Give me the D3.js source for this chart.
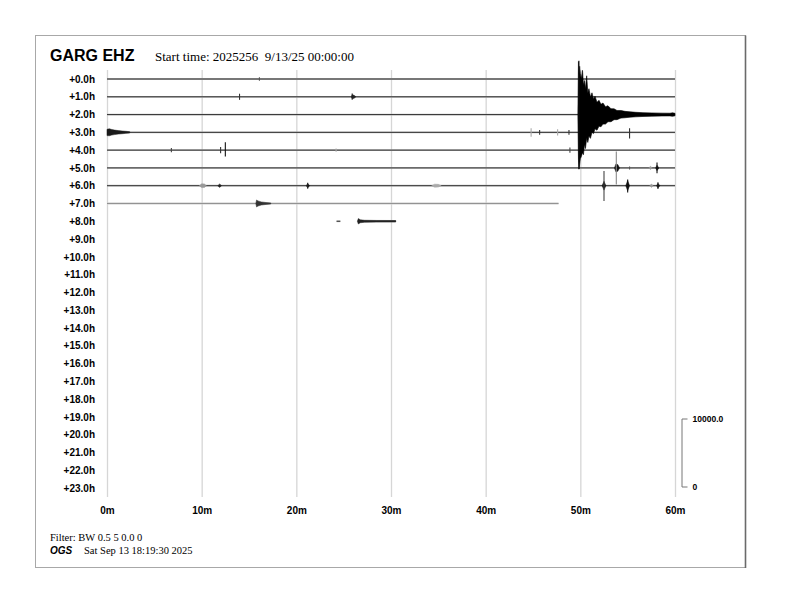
<!DOCTYPE html>
<html>
<head>
<meta charset="utf-8">
<script src="https://cdn.jsdelivr.net/npm/d3@7"></script>
<style>
  html, body { margin: 0; padding: 0; background: #fff; }
  svg { display: block; }
</style>
</head>
<body>
<svg id="chart" width="792" height="612"></svg>
<script>
// ---------------- DATA ----------------
const station = "GARG EHZ";
const startTimeText = "Start time: 2025256  9/13/25 00:00:00";
const filterText = "Filter: BW 0.5 5 0.0 0";
const agencyText = "OGS";
const stampText = "Sat Sep 13 18:19:30 2025";

const rowLabels = ["+0.0h","+1.0h","+2.0h","+3.0h","+4.0h","+5.0h","+6.0h","+7.0h",
  "+8.0h","+9.0h","+10.0h","+11.0h","+12.0h","+13.0h","+14.0h","+15.0h",
  "+16.0h","+17.0h","+18.0h","+19.0h","+20.0h","+21.0h","+22.0h","+23.0h"];
const xTickMinutes = [0, 10, 20, 30, 40, 50, 60];
const xTickLabels = ["0m", "10m", "20m", "30m", "40m", "50m", "60m"];
const scaleBarValues = [0, 10000];
const scaleBarLabels = ["0", "10000.0"];

// recorded trace spans: [row, startMinute, endMinute]
const traceSpans = [
  [0, 0, 60], [1, 0, 60], [2, 0, 60], [3, 0, 60], [4, 0, 60],
  [5, 0, 60], [6, 0, 60], [7, 0, 47.7], [8, 24.25, 24.65], [8, 26.5, 30.5]
];
// faded rows (lighter trace)
const fadedRows = [7];

// main earthquake, row +2.0h: [minute, up counts, down counts]
const mainQuake = [
  [49.74, 0, 0], [49.80, 7800, 6600], [49.86, 5900, 8000], [49.93, 7100, 7300],
  [50.00, 6000, 6500], [50.10, 5300, 6200], [50.23, 6500, 5600], [50.33, 4400, 5900],
  [50.44, 5000, 4400], [50.54, 3800, 5000], [50.67, 5700, 3500], [50.79, 3200, 4100],
  [50.91, 3800, 3200], [51.07, 2600, 3500], [51.23, 3200, 2600], [51.39, 2300, 2800],
  [51.55, 2700, 2100], [51.76, 1800, 2300], [51.97, 2100, 1700], [52.18, 1500, 1800],
  [52.39, 1700, 1400], [52.66, 1150, 1400], [52.92, 1300, 1050], [53.24, 850, 1050],
  [53.56, 850, 750], [53.87, 600, 750], [54.29, 600, 520], [54.72, 470, 470],
  [55.25, 400, 380], [55.88, 330, 330], [56.62, 280, 280], [57.57, 240, 240],
  [58.63, 210, 210], [59.47, 200, 200], [59.75, 260, 260], [60.0, 180, 180]
];

// shorter bursts: row, shade, envelope [minute, up, down]
const bursts = [
  { row: 3, shade: "#1a1a1a", env: [[0, 450, 480], [0.25, 520, 500], [0.5, 420, 400], [0.8, 330, 330], [1.2, 260, 250], [1.6, 200, 200], [2.0, 150, 150], [2.4, 100, 100]] },
  { row: 1, shade: "#222", env: [[25.8, 0, 0], [25.9, 300, 280], [26.1, 220, 220], [26.3, 0, 0]] },
  { row: 5, shade: "#111", env: [[53.6, 0, 0], [53.75, 550, 550], [53.95, 500, 500], [54.15, 0, 0]] },
  { row: 5, shade: "#999", env: [[57.25, 0, 0], [57.4, 250, 250], [57.6, 0, 0]] },
  { row: 5, shade: "#111", env: [[57.95, 0, 0], [58.1, 400, 400], [58.3, 0, 0]] },
  { row: 6, shade: "#999", env: [[9.75, 0, 0], [10.0, 280, 280], [10.3, 250, 250], [10.5, 0, 0]] },
  { row: 6, shade: "#222", env: [[11.7, 0, 0], [11.9, 250, 250], [12.1, 0, 0]] },
  { row: 6, shade: "#111", env: [[21.05, 0, 0], [21.2, 330, 330], [21.4, 0, 0]] },
  { row: 6, shade: "#aaa", env: [[34.3, 0, 0], [34.6, 230, 230], [35.0, 200, 200], [35.3, 0, 0]] },
  { row: 6, shade: "#111", env: [[52.3, 0, 0], [52.5, 650, 650], [52.7, 0, 0]] },
  { row: 6, shade: "#111", env: [[54.8, 0, 0], [55.0, 750, 750], [55.2, 0, 0]] },
  { row: 6, shade: "#999", env: [[57.35, 0, 0], [57.5, 250, 250], [57.7, 0, 0]] },
  { row: 6, shade: "#111", env: [[58.05, 0, 0], [58.2, 350, 350], [58.4, 0, 0]] },
  { row: 7, shade: "#333", env: [[15.72, 0, 0], [15.8, 520, 520], [15.95, 380, 380], [16.3, 230, 230], [16.8, 140, 140], [17.3, 80, 80]] },
  { row: 8, shade: "#222", env: [[26.45, 0, 0], [26.55, 400, 400], [26.75, 220, 220], [27.2, 150, 150], [28.5, 120, 120], [30.5, 110, 110]] }
];

// isolated spikes: [row, minute, up counts, down counts, shade]
const spikes = [
  [0, 16.1, 250, 250, "#555"],
  [1, 14.0, 450, 450, "#333"],
  [1, 25.9, 480, 450, "#222"],
  [3, 44.8, 600, 650, "#aaa"],
  [3, 45.7, 350, 350, "#333"],
  [3, 47.6, 450, 450, "#aaa"],
  [3, 48.8, 350, 350, "#333"],
  [3, 55.2, 600, 900, "#333"],
  [4, 6.8, 300, 300, "#444"],
  [4, 12.0, 450, 450, "#333"],
  [4, 12.5, 1150, 950, "#111"],
  [4, 24.2, 250, 250, "#aaa"],
  [4, 48.9, 400, 400, "#444"],
  [5, 53.8, 2430, 2430, "#888"],
  [5, 55.2, 220, 220, "#555"],
  [5, 58.1, 800, 800, "#111"],
  [6, 21.2, 450, 450, "#222"],
  [6, 52.5, 2150, 2260, "#444"],
  [6, 55.0, 900, 1000, "#111"],
  [6, 58.2, 500, 500, "#222"],
  [2, 49.85, 7900, 8050, "#111"]
];

// ---------------- DRAW ----------------
const svg = d3.select("#chart");
svg.append("rect").attr("width", 792).attr("height", 612).attr("fill", "#fff");

// frame
svg.append("rect").attr("x", 35.5).attr("y", 35.5).attr("width", 710).attr("height", 532)
  .attr("fill", "none").attr("stroke", "#a8a8a8").attr("stroke-width", 1);
svg.append("line").attr("x1", 745.5).attr("x2", 745.5).attr("y1", 35.5).attr("y2", 568)
  .attr("stroke", "#6a6a6a").attr("stroke-width", 1.6);

const x = d3.scaleLinear().domain([0, 60]).range([107, 675]);
const y = d3.scalePoint().domain(rowLabels).range([79, 488]);
const amp = d3.scaleLinear().domain([0, 10000]).range([0, 68]);
const rowY = r => y(rowLabels[r]);

// x axis with gridlines
const gridTop = 70, gridBottom = 497;
const xAxis = d3.axisBottom(x)
  .tickValues(xTickMinutes)
  .tickFormat((d, i) => xTickLabels[i])
  .tickSize(-(gridBottom - gridTop))
  .tickPadding(10);
const gx = svg.append("g").attr("transform", `translate(0,${gridBottom})`).call(xAxis);
gx.select(".domain").remove();
gx.selectAll(".tick line").attr("stroke", "#d6d6d6").attr("stroke-width", 1.3);
gx.selectAll(".tick text").attr("font-family", "'Liberation Sans', Arial, sans-serif")
  .attr("font-weight", "bold").attr("font-size", 10).attr("fill", "#000");

// y axis labels
const yAxis = d3.axisLeft(y).tickSize(0).tickPadding(12);
const gy = svg.append("g").attr("transform", `translate(107,0)`).call(yAxis);
gy.select(".domain").remove();
gy.selectAll(".tick text").attr("font-family", "'Liberation Sans', Arial, sans-serif")
  .attr("font-weight", "bold").attr("font-size", 10).attr("fill", "#000");

// traces (baselines)
const traces = svg.append("g");
traceSpans.forEach(([r, s, e]) => {
  const faded = fadedRows.includes(r);
  traces.append("line")
    .attr("x1", x(s)).attr("x2", x(e))
    .attr("y1", rowY(r)).attr("y2", rowY(r))
    .attr("stroke", faded ? "#d0d0d0" : "#bdbdbd").attr("stroke-width", 1.8);
  traces.append("line")
    .attr("x1", x(s)).attr("x2", x(e))
    .attr("y1", rowY(r)).attr("y2", rowY(r))
    .attr("stroke", faded ? "#8a8a8a" : "#222").attr("stroke-width", 0.9);
});

// bursts & main quake envelopes
function envArea(r) {
  return d3.area()
    .x(d => x(d[0]))
    .y0(d => rowY(r) + amp(d[2]))
    .y1(d => rowY(r) - amp(d[1]));
}
bursts.forEach(b => {
  traces.append("path").datum(b.env)
    .attr("d", envArea(b.row))
    .attr("fill", b.shade).attr("stroke", b.shade).attr("stroke-width", 0.5);
});
traces.append("path").datum(mainQuake)
  .attr("d", envArea(2))
  .attr("fill", "#000").attr("stroke", "#000").attr("stroke-width", 0.6);

// spikes
spikes.forEach(([r, m, up, dn, shade]) => {
  traces.append("line")
    .attr("x1", x(m)).attr("x2", x(m))
    .attr("y1", rowY(r) - amp(up)).attr("y2", rowY(r) + amp(dn))
    .attr("stroke", shade).attr("stroke-width", 1.1);
});

// scale bar
const barY = d3.scaleLinear().domain([0, 10000]).range([486.5, 418.5]);
const barAxis = d3.axisRight(barY)
  .tickValues(scaleBarValues)
  .tickFormat((d, i) => scaleBarLabels[i])
  .tickSizeInner(0).tickSizeOuter(6).tickPadding(11);
const gb = svg.append("g").attr("transform", "translate(681.5,0)").call(barAxis);
gb.select(".domain").attr("stroke", "#777").attr("stroke-width", 1);
gb.selectAll(".tick text").attr("font-family", "'Liberation Sans', Arial, sans-serif")
  .attr("font-weight", "bold").attr("font-size", 8.5).attr("fill", "#000");

// titles
svg.append("text").attr("x", 50).attr("y", 61).text(station)
  .attr("font-family", "'Liberation Sans', Arial, sans-serif")
  .attr("font-weight", "bold").attr("font-size", 16).attr("fill", "#000");
svg.append("text").attr("x", 155).attr("y", 61).text(startTimeText)
  .attr("xml:space", "preserve").style("white-space", "pre")
  .attr("font-family", "'Liberation Serif', 'Times New Roman', serif")
  .attr("font-size", 13).attr("fill", "#000");

// footer
svg.append("text").attr("x", 50).attr("y", 541).text(filterText)
  .attr("font-family", "'Liberation Serif', 'Times New Roman', serif")
  .attr("font-size", 10.5).attr("fill", "#000");
svg.append("text").attr("x", 50).attr("y", 554).text(agencyText)
  .attr("font-family", "'Liberation Sans', Arial, sans-serif")
  .attr("font-weight", "bold").attr("font-style", "italic")
  .attr("font-size", 10).attr("fill", "#000");
svg.append("text").attr("x", 84).attr("y", 554).text(stampText)
  .attr("font-family", "'Liberation Serif', 'Times New Roman', serif")
  .attr("font-size", 10.5).attr("fill", "#000");
</script>
</body>
</html>
